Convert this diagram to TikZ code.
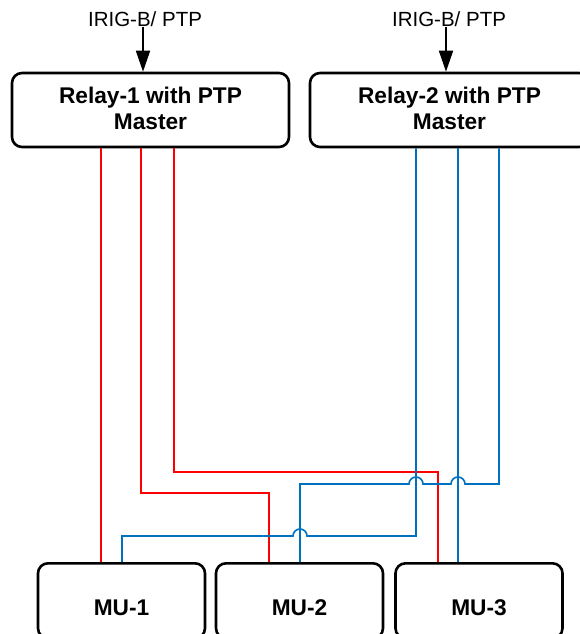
\documentclass[tikz,border=0pt]{standalone}
\usepackage{fontspec}
\setmainfont{Liberation Sans}
\usetikzlibrary{arrows.meta}
\definecolor{linkred}{RGB}{255,0,0}
\definecolor{linkblue}{RGB}{0,112,192}
\tikzset{
  relaybox/.style={draw=black, line width=2.6pt, rounded corners=10pt,
    minimum width=277pt, minimum height=74pt, inner sep=0pt, align=center,
    text depth=4pt, font=\fontsize{22.7}{26}\selectfont\bfseries},
  mubox/.style={draw=black, line width=2.6pt, rounded corners=10pt,
    minimum width=167pt, inner xsep=0pt, inner ysep=0pt,
    text height=52pt, text depth=23pt,
    font=\fontsize{22.7}{26}\selectfont\bfseries},
  srclabel/.style={inner sep=0pt, anchor=base, font=\fontsize{20.5}{24}\selectfont},
  feed/.style={line width=1.8pt, -{Triangle[length=21pt,width=14pt]}},
  redlink/.style={draw=linkred, line width=1.6pt},
  bluelink/.style={draw=linkblue, line width=1.6pt},
}
\begin{document}
\begin{tikzpicture}[x=1pt,y=-1pt]
\useasboundingbox (0,0) rectangle (579,634);

% relays
\node[relaybox] (r1) at (150.5,110) {Relay-1 with PTP\\Master};
\node[relaybox, minimum width=279pt] (r2) at (449.5,110) {Relay-2 with PTP\\Master};

% time sources
\node[srclabel] (src1) at (145,27) {IRIG-B/ PTP};
\node[srclabel] (src2) at (449,27) {IRIG-B/ PTP};
\draw[feed] (143,0 |- src1.south) -- (143,0 |- r1.north);
\draw[feed] (446,0 |- src2.south) -- (446,0 |- r2.north);

% merging units
\node[mubox, anchor=north] (mu1) at (121.5,562) {MU-1};
\node[mubox, anchor=north] (mu2) at (299.5,562) {MU-2};
\node[mubox, anchor=north] (mu3) at (479,562) {MU-3};

% red links from relay 1
\draw[redlink] (101,0 |- r1.south) -- (101,0 |- mu1.north);
\draw[redlink] (141,0 |- r1.south) |- (269,493) -- (269,0 |- mu2.north);
\draw[redlink] (174,0 |- r1.south) |- (438,472) -- (438,0 |- mu3.north);

% blue links from relay 2, hopping over the lines they cross
\draw[bluelink] (458,0 |- r2.south) -- (458,0 |- mu3.north);
\draw[bluelink] (416,0 |- r2.south) -- (416,536) -- (307,536)
  arc[start angle=0, end angle=180, radius=7pt] -- (122,536) -- (122,0 |- mu1.north);
\draw[bluelink] (499,0 |- r2.south) -- (499,484) -- (465,484)
  arc[start angle=0, end angle=180, radius=7pt] -- (423,484)
  arc[start angle=0, end angle=180, radius=7pt] -- (300,484) -- (300,0 |- mu2.north);
\end{tikzpicture}
\end{document}
